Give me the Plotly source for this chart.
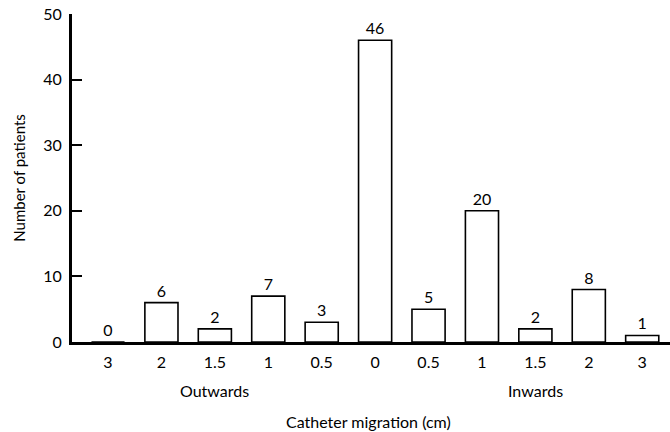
import plotly.graph_objects as go

categories = ["3", "2", "1.5", "1", "0.5", "0", "0.5", "1", "1.5", "2", "3"]
counts = [0, 6, 2, 7, 3, 46, 5, 20, 2, 8, 1]
y_ticks = [0, 10, 20, 30, 40, 50]

positions = list(range(len(categories)))
FONT = "Lato, 'DejaVu Sans', sans-serif"

fig = go.Figure()
fig.add_trace(go.Bar(
    x=positions, y=counts, width=0.62,
    marker=dict(color="white", line=dict(color="black", width=1.6)),
    text=[str(c) for c in counts], textposition="outside",
    textfont=dict(family=FONT, size=16, color="black"),
    cliponaxis=False,
))

fig.update_layout(
    width=670, height=432,
    margin=dict(l=72, r=0, t=14, b=90),
    plot_bgcolor="white", paper_bgcolor="white",
    showlegend=False,
    font=dict(family=FONT, size=16, color="black"),
    xaxis=dict(
        range=[-0.674, 10.52], tickvals=positions, ticktext=categories,
        showline=True, linecolor="black", linewidth=3, ticks="",
        showgrid=False, zeroline=False, tickfont=dict(size=16),
        automargin=False, ticklabelstandoff=4, ticklabeloverflow="allow",
    ),
    yaxis=dict(
        range=[0, 50], tickvals=y_ticks, ticks="inside", ticklen=10,
        tickwidth=1.5, tickcolor="black",
        showline=True, linecolor="black", linewidth=3,
        showgrid=False, zeroline=False, tickfont=dict(size=16),
        automargin=False, ticklabelstandoff=4, ticklabeloverflow="allow",
        title=dict(text="Number of patients", font=dict(size=15), standoff=14),
    ),
    annotations=[
        dict(text="Outwards", x=2, y=-0.149, xref="x", yref="paper",
             yanchor="middle", showarrow=False, font=dict(size=16)),
        dict(text="Inwards", x=8, y=-0.149, xref="x", yref="paper",
             yanchor="middle", showarrow=False, font=dict(size=16)),
        dict(text="Catheter migration (cm)", x=4.88, y=-0.241, xref="x", yref="paper",
             yanchor="middle", showarrow=False, font=dict(size=16)),
    ],
)

fig.write_html(
    "out.html",
    config={"displayModeBar": False},
    post_script="document.body.style.margin='0px';document.body.style.overflow='hidden';",
)
